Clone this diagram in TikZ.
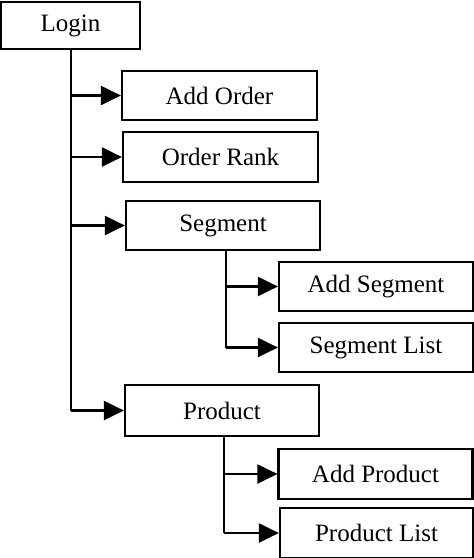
\documentclass[tikz,border=0pt]{standalone}
\usepackage{fontspec}
\setmainfont{Liberation Serif}
\usetikzlibrary{arrows.meta}
\begin{document}
\begin{tikzpicture}[x=1pt,y=1pt,
  box/.style={draw,line width=2.2pt,rectangle,inner sep=0pt,font=\fontsize{25}{29}\selectfont},
  arr/.style={line width=2.2pt,-{Triangle[length=20pt,width=19pt]}},
  ln/.style={line width=2.2pt}]
\useasboundingbox (0,0) rectangle (474,-558);
\node[box,minimum width=139,minimum height=47] (login) at (70.5,-25.5) {Login};
\node[box,minimum width=195,minimum height=49] (addorder) at (219.5,-95.5) {Add Order};
\node[box,minimum width=195,minimum height=50] (orderrank) at (220.5,-157) {Order Rank};
\node[box,minimum width=194,minimum height=49] (segment) at (223,-225.5) {Segment};
\node[box,minimum width=194,minimum height=49] (addsegment) at (376,-286.5) {Add Segment};
\node[box,minimum width=194,minimum height=49] (segmentlist) at (376,-347.5) {Segment List};
\node[box,minimum width=194,minimum height=51] (product) at (222,-410.5) {Product};
\node[box,minimum width=194,minimum height=50] (addproduct) at (375.5,-474) {Add Product};
\node[box,minimum width=193,minimum height=50] (productlist) at (376.5,-533) {Product List};
\coordinate (trunk) at (71,0);
\coordinate (segtrunk) at (226,0);
\coordinate (prodtrunk) at (224,0);
\draw[ln] (trunk |- login.south) -- (trunk |- product.west);
\draw[arr] (trunk |- addorder.west) -- (addorder.west);
\draw[arr] (trunk |- orderrank.west) -- (orderrank.west);
\draw[arr] (trunk |- segment.west) -- (segment.west);
\draw[arr] (trunk |- product.west) -- (product.west);
\draw[ln] (segtrunk |- segment.south) -- (segtrunk |- segmentlist.west);
\draw[arr] (segtrunk |- addsegment.west) -- (addsegment.west);
\draw[arr] (segtrunk |- segmentlist.west) -- (segmentlist.west);
\draw[ln] (prodtrunk |- product.south) -- (prodtrunk |- productlist.west);
\draw[arr] (prodtrunk |- addproduct.west) -- (addproduct.west);
\draw[arr] (prodtrunk |- productlist.west) -- (productlist.west);
\end{tikzpicture}
\end{document}
